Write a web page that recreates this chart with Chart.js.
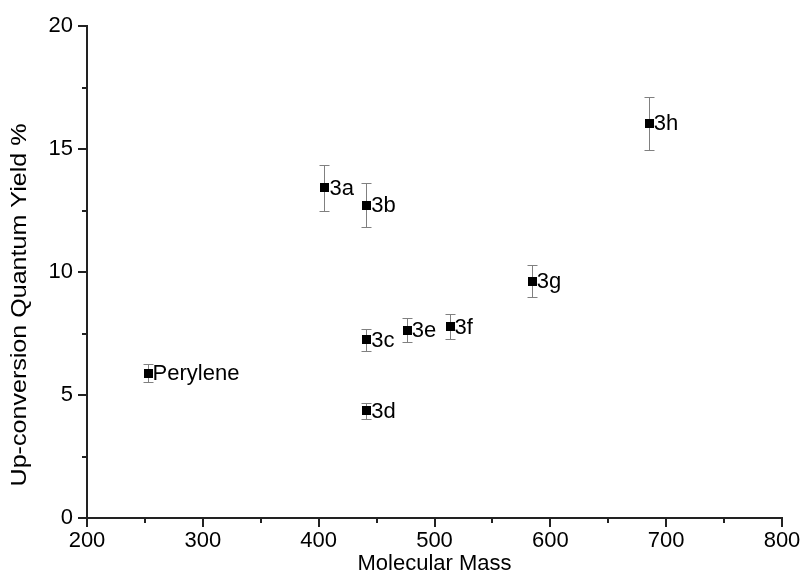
<!DOCTYPE html>
<html>
<head>
<meta charset="utf-8">
<script src="https://cdn.jsdelivr.net/npm/chart.js@4"></script>
<style>
html,body{margin:0;padding:0;background:#fff;}
#wrap{width:803px;height:573px;position:relative;}
</style>
</head>
<body>
<div id="wrap"><canvas id="c" width="803" height="573"></canvas></div>
<script>
const labels = ["Perylene","3a","3b","3c","3d","3e","3f","3g","3h"];
const masses = [252.3, 405, 441, 441, 441, 476, 513, 584, 685];
const yields = [5.89, 13.43, 12.72, 7.24, 4.36, 7.64, 7.78, 9.63, 16.05];
const errors = [0.35, 0.93, 0.88, 0.45, 0.33, 0.5, 0.52, 0.65, 1.08];
const xTicks = [200, 300, 400, 500, 600, 700, 800];
const yTicks = [0, 5, 10, 15, 20];
const xMinorTicks = [250, 350, 450, 550, 650, 750];
const yMinorTicks = [2.5, 7.5, 12.5, 17.5];
const xTitle = 'Molecular Mass';
const yTitle = 'Up-conversion Quantum Yield %';

const FONT = "'Liberation Sans', Arial, sans-serif";
const FS = 22;

const errorBarPlugin = {
  id: 'errorBars',
  afterDatasetsDraw(chart) {
    const ctx = chart.ctx;
    const xs = chart.scales.x, ys = chart.scales.y;
    ctx.save();
    ctx.strokeStyle = '#808080';
    ctx.lineWidth = 1;
    for (let i = 0; i < masses.length; i++) {
      const x = Math.round(xs.getPixelForValue(masses[i])) + 0.5;
      const yt = Math.round(ys.getPixelForValue(yields[i] + errors[i])) + 0.5;
      const yb = Math.round(ys.getPixelForValue(yields[i] - errors[i])) + 0.5;
      ctx.beginPath();
      ctx.moveTo(x, yt); ctx.lineTo(x, yb);
      ctx.moveTo(x - 5, yt); ctx.lineTo(x + 5, yt);
      ctx.moveTo(x - 5, yb); ctx.lineTo(x + 5, yb);
      ctx.stroke();
    }
    ctx.restore();
  },
  afterDraw(chart) {
    const ctx = chart.ctx;
    const xs = chart.scales.x, ys = chart.scales.y;
    ctx.save();
    // markers on top of error bars
    ctx.fillStyle = '#000';
    for (let i = 0; i < masses.length; i++) {
      const x = xs.getPixelForValue(masses[i]);
      const y = ys.getPixelForValue(yields[i]);
      ctx.fillRect(Math.round(x - 4), Math.round(y - 4.5), 9, 9);
    }
    // minor ticks
    ctx.strokeStyle = '#222';
    ctx.lineWidth = 2;
    ctx.beginPath();
    xMinorTicks.forEach(v => {
      const x = Math.round(xs.getPixelForValue(v));
      ctx.moveTo(x, ys.bottom); ctx.lineTo(x, ys.bottom + 5);
    });
    yMinorTicks.forEach(v => {
      const y = Math.round(ys.getPixelForValue(v));
      ctx.moveTo(xs.left, y); ctx.lineTo(xs.left - 5, y);
    });
    ctx.stroke();
    // point labels
    ctx.fillStyle = '#000';
    ctx.font = FS + 'px ' + FONT;
    ctx.textBaseline = 'middle';
    ctx.textAlign = 'left';
    for (let i = 0; i < labels.length; i++) {
      const x = xs.getPixelForValue(masses[i]);
      const y = ys.getPixelForValue(yields[i]);
      ctx.fillText(labels[i], x + 5, y + 1);
    }
    // y title (slightly stretched along its length, as in the reference)
    ctx.save();
    ctx.translate(20, 305);
    ctx.rotate(-Math.PI / 2);
    ctx.scale(1.14, 1);
    ctx.textAlign = 'center';
    ctx.textBaseline = 'middle';
    ctx.fillText(yTitle, 0, 0);
    ctx.restore();
    ctx.restore();
  }
};

new Chart(document.getElementById('c'), {
  type: 'scatter',
  data: {
    datasets: [{
      data: masses.map((m, i) => ({x: m, y: yields[i]})),
      pointStyle: 'rect',
      pointRadius: 0,
      pointHoverRadius: 0,
      backgroundColor: '#000',
      borderColor: '#000',
      borderWidth: 0
    }]
  },
  options: {
    responsive: false,
    animation: false,
    devicePixelRatio: 1,
    layout: {padding: {left: 4, right: 21, top: 26, bottom: 0}},
    plugins: {legend: {display: false}, tooltip: {enabled: false}},
    scales: {
      x: {
        type: 'linear', min: 200, max: 800,
        afterBuildTicks(axis) { axis.ticks = xTicks.map(v => ({value: v})); },
        afterFit(axis) { axis.height = 55; },
        border: {display: true, color: '#222', width: 2},
        grid: {display: true, drawOnChartArea: false, drawTicks: true, tickLength: 9, color: '#222', lineWidth: 2},
        ticks: {color: '#000', font: {family: FONT, size: FS}, padding: 1, maxRotation: 0},
        title: {display: true, text: xTitle, color: '#000', font: {family: FONT, size: FS}, padding: {top: 0, bottom: -4}}
      },
      y: {
        type: 'linear', min: 0, max: 20,
        afterBuildTicks(axis) { axis.ticks = yTicks.map(v => ({value: v})); },
        afterFit(axis) { axis.width = 83; },
        border: {display: true, color: '#222', width: 2},
        grid: {display: true, drawOnChartArea: false, drawTicks: true, tickLength: 9, color: '#222', lineWidth: 2},
        ticks: {color: '#000', font: {family: FONT, size: FS}, padding: 5},
        title: {display: false}
      }
    }
  },
  plugins: [errorBarPlugin]
});
</script>
</body>
</html>
